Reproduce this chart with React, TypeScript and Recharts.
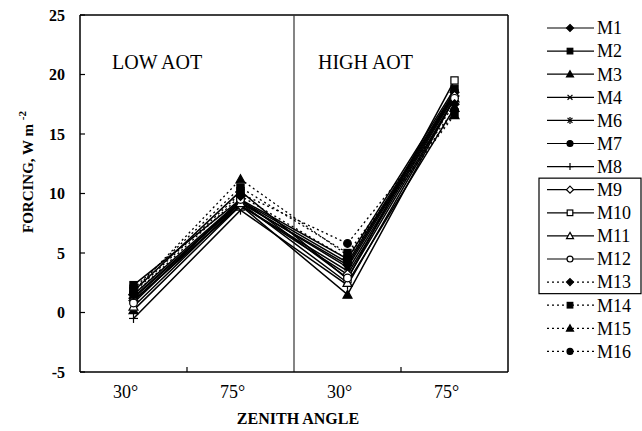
import { LineChart, Line, XAxis, YAxis, ReferenceLine } from "recharts";

const CATEGORIES = ["30°", "75°", "30°", "75°"];
const Y_TICKS = [-5, 0, 5, 10, 15, 20, 25];
const MODELS = ["M1", "M2", "M3", "M4", "M6", "M7", "M8", "M9", "M10", "M11", "M12", "M13", "M14", "M15", "M16"];

// forcing per zenith angle: low 30, low 75, high 30, high 75
const M1 = [1.2, 9.2, 4.0, 18.5];
const M2 = [2.3, 9.5, 4.5, 18.8];
const M3 = [0.2, 9.0, 1.5, 18.0];
const M4 = [1.0, 9.0, 3.5, 18.3];
const M6 = [1.3, 9.3, 3.8, 18.4];
const M7 = [1.5, 9.4, 4.2, 18.6];
const M8 = [-0.5, 8.6, 2.3, 18.0];
const M9 = [1.0, 9.0, 3.2, 18.2];
const M10 = [1.8, 10.2, 2.8, 19.5];
const M11 = [0.5, 9.2, 2.5, 17.2];
const M12 = [0.8, 9.5, 2.9, 18.0];
const M13 = [1.5, 9.8, 4.5, 17.5];
const M14 = [2.0, 10.5, 5.0, 16.8];
const M15 = [1.8, 11.2, 4.8, 16.6];
const M16 = [1.7, 10.0, 5.8, 17.0];

const VALUES = [M1, M2, M3, M4, M6, M7, M8, M9, M10, M11, M12, M13, M14, M15, M16];

type Shape = "diamond" | "square" | "triangle" | "x" | "star" | "circle" | "plus";
const SHAPES: Shape[] = ["diamond", "square", "triangle", "x", "star", "circle", "plus", "diamond", "square", "triangle", "circle", "diamond", "square", "triangle", "circle"];
const FILLED = [true, true, true, true, true, true, true, false, false, false, false, true, true, true, true];
const DASHED = [false, false, false, false, false, false, false, false, false, false, false, true, true, true, true];

const rows = CATEGORIES.map((c, i) => {
  const row: Record<string, number | string> = { pos: i + 0.5, name: c };
  MODELS.forEach((m, j) => (row[m] = VALUES[j][i]));
  return row;
});

const SERIF = "'Liberation Serif', 'Times New Roman', serif";

function Marker({ shape, filled, cx, cy, s }: { shape: Shape; filled: boolean; cx: number; cy: number; s: number }) {
  const fill = filled ? "#000" : "#fff";
  const st = { stroke: "#000", strokeWidth: 1.2 };
  switch (shape) {
    case "diamond":
      return <polygon points={`${cx},${cy - s} ${cx + s},${cy} ${cx},${cy + s} ${cx - s},${cy}`} fill={fill} {...st} />;
    case "square":
      return <rect x={cx - s * 0.8} y={cy - s * 0.8} width={s * 1.6} height={s * 1.6} fill={fill} {...st} />;
    case "triangle":
      return <polygon points={`${cx},${cy - s} ${cx + s},${cy + s * 0.8} ${cx - s},${cy + s * 0.8}`} fill={fill} {...st} />;
    case "circle":
      return <circle cx={cx} cy={cy} r={s * 0.85} fill={fill} {...st} />;
    case "x":
      return (
        <g {...st}>
          <line x1={cx - s * 0.7} y1={cy - s * 0.7} x2={cx + s * 0.7} y2={cy + s * 0.7} />
          <line x1={cx - s * 0.7} y1={cy + s * 0.7} x2={cx + s * 0.7} y2={cy - s * 0.7} />
        </g>
      );
    case "star":
      return (
        <g {...st}>
          <line x1={cx - s * 0.7} y1={cy - s * 0.7} x2={cx + s * 0.7} y2={cy + s * 0.7} />
          <line x1={cx - s * 0.7} y1={cy + s * 0.7} x2={cx + s * 0.7} y2={cy - s * 0.7} />
          <line x1={cx} y1={cy - s} x2={cx} y2={cy + s} />
        </g>
      );
    default:
      return (
        <g {...st}>
          <line x1={cx - s} y1={cy} x2={cx + s} y2={cy} />
          <line x1={cx} y1={cy - s} x2={cx} y2={cy + s} />
        </g>
      );
  }
}

const YTick = (props: any) => {
  const { x, y, payload } = props;
  return (
    <g>
      <line x1={x + 15} y1={y} x2={x + 20} y2={y} stroke="#000" strokeWidth={1.2} />
      <text x={x} y={y} dy="0.35em" textAnchor="end" fontFamily={SERIF} fontWeight="bold" fontSize={16} fill="#000">
        {payload.value}
      </text>
    </g>
  );
};

const XTick = (props: any) => {
  const { x, y, payload } = props;
  return (
    <text x={x - 8} y={y} dy="0.35em" textAnchor="middle" fontFamily={SERIF} fontSize={18} fill="#000">
      {CATEGORIES[Math.floor(payload.value)]}
    </text>
  );
};

function Legend() {
  const top = 28;
  const step = 23.1;
  return (
    <svg width={642} height={431} style={{ position: "absolute", left: 0, top: 0, pointerEvents: "none" }}>
      <rect x={539} y={top + 6.5 * step} width={102} height={5 * step} fill="none" stroke="#000" strokeWidth={1.2} />
      {MODELS.map((m, i) => {
        const y = top + i * step;
        return (
          <g key={m}>
            <line x1={547} y1={y} x2={594} y2={y} stroke="#000" strokeWidth={1.2} strokeDasharray={DASHED[i] ? "2 3" : undefined} />
            <Marker shape={SHAPES[i]} filled={FILLED[i]} cx={570} cy={y} s={3.5} />
            <text x={597} y={y} dy="0.35em" fontFamily={SERIF} fontSize={18} fill="#000">
              {m}
            </text>
          </g>
        );
      })}
      <text x={112} y={69} fontFamily={SERIF} fontSize={20} fill="#000">LOW AOT</text>
      <text x={318} y={69} fontFamily={SERIF} fontSize={20} fill="#000">HIGH AOT</text>
      <text x={298} y={424} textAnchor="middle" fontFamily={SERIF} fontSize={16} fontWeight="bold" fill="#000">ZENITH ANGLE</text>
      <text transform="translate(33,172) rotate(-90)" textAnchor="middle" fontFamily={SERIF} fontSize={15} fontWeight="bold" fill="#000">
        FORCING, W m <tspan dy={-7} fontSize={11}>-2</tspan>
      </text>
    </svg>
  );
}

export default function App() {
  return (
    <div style={{ position: "absolute", left: 0, top: 0, width: 642, height: 431, background: "#fff" }}>
      <LineChart width={642} height={431} data={rows} margin={{ top: 15, right: 134, bottom: 0, left: 0 }}>
        <XAxis
          dataKey="pos"
          type="number"
          domain={[0, 4]}
          ticks={[0.5, 1.5, 2.5, 3.5]}
          tick={<XTick />}
          tickLine={false}
          tickSize={0}
          tickMargin={20}
          height={59}
          axisLine={{ stroke: "#000", strokeWidth: 1.5 }}
        />
        <YAxis
          domain={[-5, 25]}
          ticks={Y_TICKS}
          tick={<YTick />}
          tickLine={false}
          tickSize={0}
          tickMargin={15}
          width={80}
          axisLine={{ stroke: "#000", strokeWidth: 1.5 }}
          interval={0}
        />
        <ReferenceLine y={25} stroke="#000" strokeWidth={1.5} />
        <ReferenceLine x={4} stroke="#000" strokeWidth={1.5} />
        <ReferenceLine x={2} stroke="#333" strokeWidth={1.2} />
        <ReferenceLine segment={[{ x: 1, y: -5 }, { x: 1, y: -4.58 }]} stroke="#000" strokeWidth={1.2} />
        <ReferenceLine segment={[{ x: 3, y: -5 }, { x: 3, y: -4.58 }]} stroke="#000" strokeWidth={1.2} />
        {MODELS.map((m, i) => (
          <Line
            key={m}
            dataKey={m}
            stroke="#000"
            strokeWidth={DASHED[i] ? 1.3 : 1.5}
            strokeDasharray={DASHED[i] ? "2 3" : undefined}
            isAnimationActive={false}
            dot={(p: any) => (
              <Marker key={`${m}-${p.index}`} shape={SHAPES[i]} filled={FILLED[i]} cx={p.cx} cy={p.cy} s={4.5} />
            )}
          />
        ))}
      </LineChart>
      <Legend />
    </div>
  );
}
